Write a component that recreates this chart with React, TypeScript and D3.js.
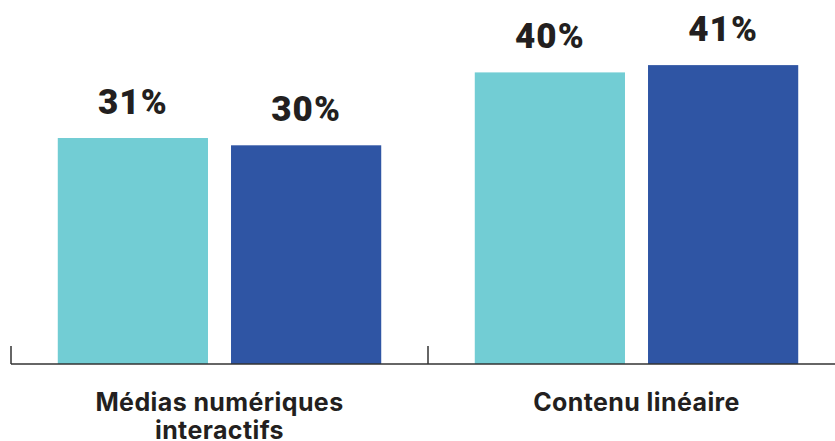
import React from 'react'
import * as d3 from 'd3'

const groups = ['Médias numériques interactifs', 'Contenu linéaire']
const groupLines = [['Médias numériques', 'interactifs'], ['Contenu linéaire']]
const series = ['a', 'b']
const values = [
  [31, 30],
  [40, 41],
]
const colors = ['#72cdd4', '#2f55a4']

const W = 835
const H = 441

const App: React.FC = () => {
  const baseY = 364
  const x0 = d3.scaleBand<string>().domain(groups).range([11, 845])
  const x1 = d3
    .scaleBand<string>()
    .domain(series)
    .range([0, x0.bandwidth()])
    .paddingInner(23 / 173)
    .paddingOuter(0.27)
  const y = d3.scaleLinear().domain([0, 50]).range([baseY, -0.5])

  return (
    <svg
      width={W}
      height={H}
      style={{ position: 'absolute', left: 0, top: 0, display: 'block' }}
    >
      {groups.map((g, gi) => (
        <g key={g} transform={`translate(${x0(g)},0)`}>
          {values[gi].map((v, si) => {
            const bx = x1(series[si])!
            return (
              <g key={si}>
                <rect
                  x={bx}
                  y={y(v)}
                  width={x1.bandwidth()}
                  height={baseY - y(v)}
                  fill={colors[si]}
                />
                <text
                  x={bx + x1.bandwidth() / 2}
                  y={y(v) - 24}
                  textAnchor="middle"
                  fontFamily="Roboto"
                  fontWeight={900}
                  fontSize={35}
                  letterSpacing={1}
                  fill="#231f20"
                >
                  {v}%
                </text>
              </g>
            )
          })}
        </g>
      ))}

      {/* baseline + group ticks */}
      <line x1={11} x2={835} y1={baseY} y2={baseY} stroke="#333" strokeWidth={1.5} />
      {groups.map((g) => (
        <line
          key={g}
          x1={x0(g)}
          x2={x0(g)}
          y1={346}
          y2={baseY}
          stroke="#333"
          strokeWidth={1.5}
        />
      ))}

      {groups.map((g, gi) => (
        <text
          key={g}
          x={x0(g)! + x0.bandwidth() / 2}
          y={411}
          textAnchor="middle"
          fontFamily="Inter"
          fontWeight={700}
          fontSize={25}
          letterSpacing={0.4}
          fill="#231f20"
        >
          {groupLines[gi].map((l, li) => (
            <tspan key={li} x={x0(g)! + x0.bandwidth() / 2} dy={li === 0 ? 0 : 28}>
              {l}
            </tspan>
          ))}
        </text>
      ))}
    </svg>
  )
}

export default App
